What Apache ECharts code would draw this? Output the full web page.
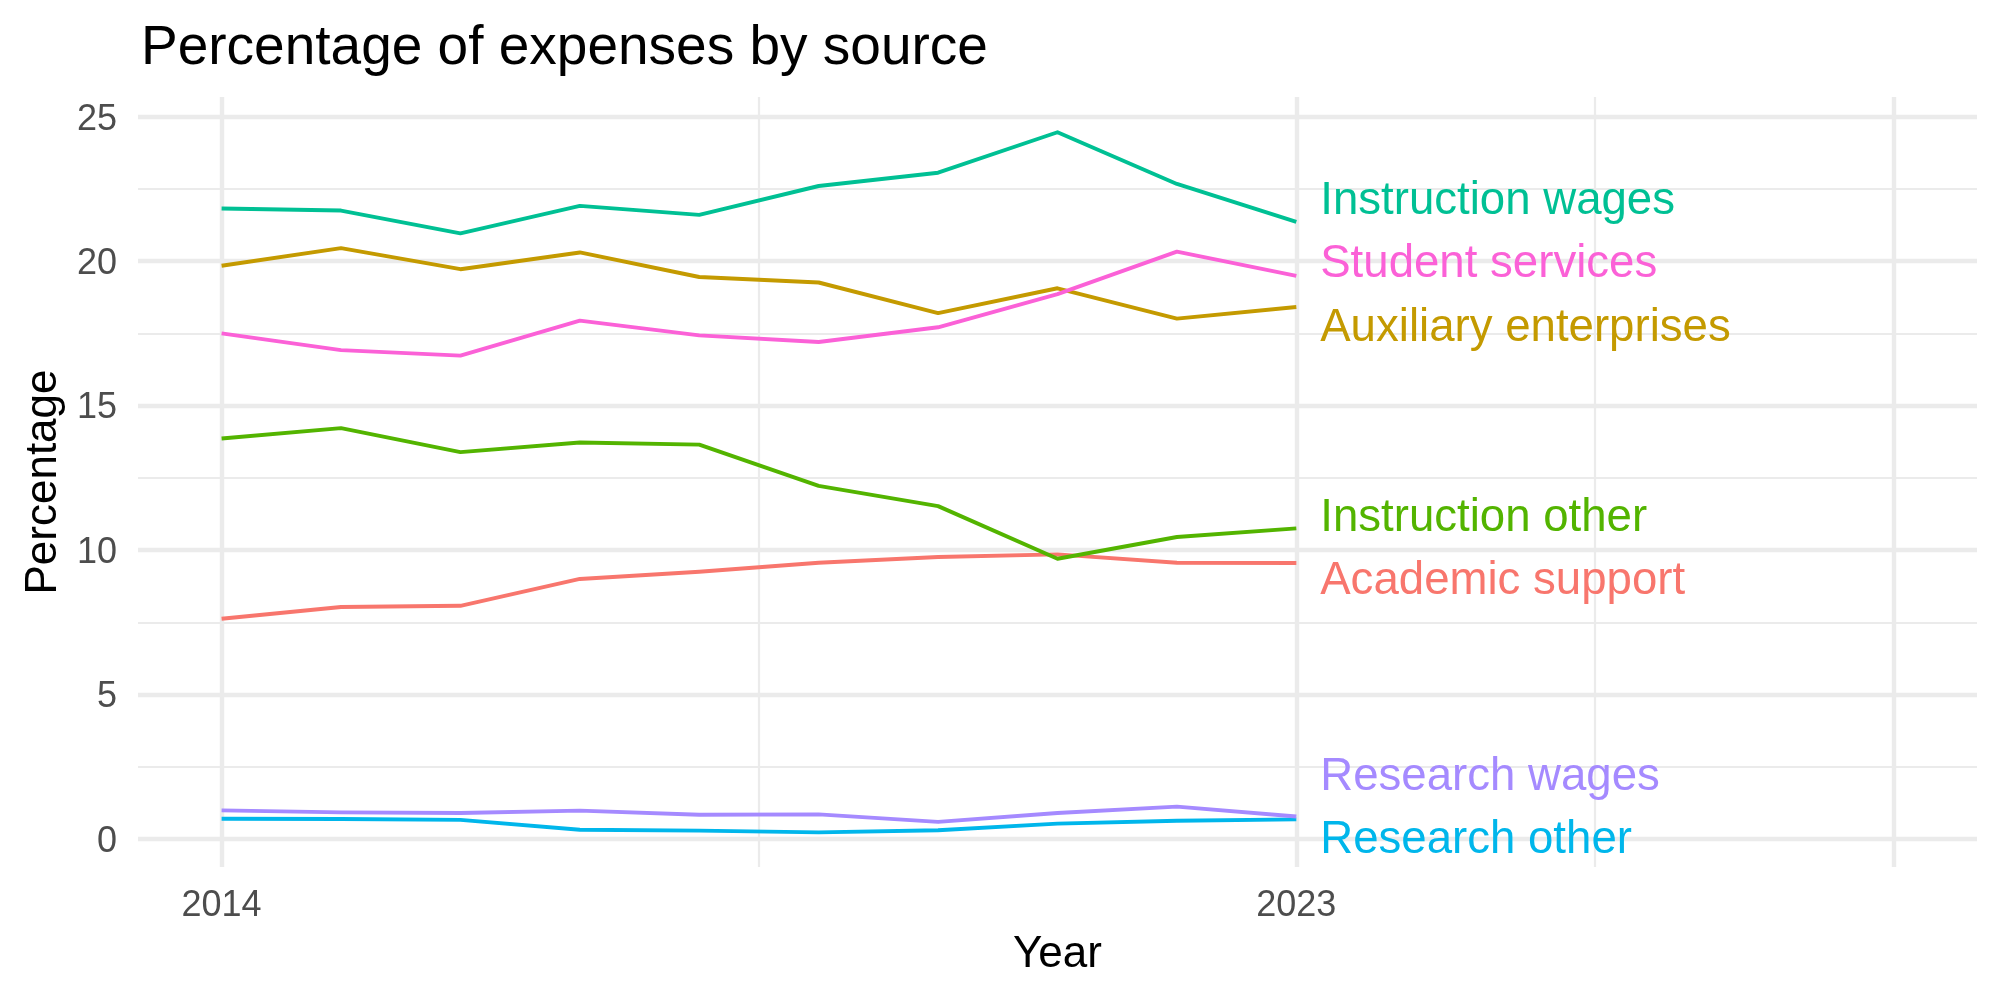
<!DOCTYPE html>
<html>
<head>
<meta charset="utf-8">
<script src="https://cdn.jsdelivr.net/npm/echarts@6/dist/echarts.min.js"></script>
<style>
html,body{margin:0;padding:0;background:#ffffff;}
#chart{width:2000px;height:1000px;}
</style>
</head>
<body>
<div id="chart"></div>
<script>
// ---- data ----
const years = [2014, 2015, 2016, 2017, 2018, 2019, 2020, 2021, 2022, 2023];
const academicSupport      = [7.62, 8.03, 8.07, 9.00, 9.25, 9.56, 9.76, 9.85, 9.56, 9.55];
const auxiliaryEnterprises = [19.84, 20.45, 19.72, 20.30, 19.45, 19.26, 18.20, 19.06, 18.01, 18.41];
const instructionOther     = [13.86, 14.22, 13.39, 13.72, 13.65, 12.22, 11.52, 9.70, 10.45, 10.75];
const instructionWages     = [21.82, 21.75, 20.96, 21.91, 21.60, 22.60, 23.06, 24.46, 22.67, 21.36];
const researchOther        = [0.70, 0.69, 0.66, 0.32, 0.29, 0.23, 0.30, 0.53, 0.63, 0.68];
const researchWages        = [0.99, 0.92, 0.90, 0.98, 0.84, 0.85, 0.59, 0.90, 1.12, 0.78];
const studentServices      = [17.50, 16.92, 16.73, 17.94, 17.43, 17.20, 17.71, 18.86, 20.33, 19.49];
const seriesNames = ['Academic support', 'Auxiliary enterprises', 'Instruction other', 'Instruction wages', 'Research other', 'Research wages', 'Student services'];
// repelled label anchor values (percentage units)
const labelValues = [9.05, 17.81, 11.24, 22.19, 0.08, 2.27, 20.03];
const xTickLabels = [2014, 2023];
const yTickLabels = [0, 5, 10, 15, 20, 25];

// ---- styling ----
const allValues = [academicSupport, auxiliaryEnterprises, instructionOther, instructionWages, researchOther, researchWages, studentServices];
const colors = ['#F8766D', '#C49A00', '#53B400', '#00C094', '#00B6EB', '#A58AFF', '#FB61D7'];
const FONT = '"Liberation Sans", Arial, Helvetica, sans-serif';
const GRID_COLOR = '#EBEBEB';
const xMin = 2013.3, xMax = 2028.7;
const yMin = -0.97, yMax = 25.68;
const labelX = 2023.2;

const xMajorGrid = [2014, 2023, 2028];
const xMinorGrid = [2018.5, 2025.5];
const yMinorGrid = [2.5, 7.5, 12.5, 17.5, 22.5];

const lineSeries = allValues.map((vals, i) => ({
  type: 'line',
  name: seriesNames[i],
  xAxisIndex: 0, yAxisIndex: 0,
  data: years.map((y, j) => [y, vals[j]]),
  showSymbol: false,
  symbol: 'none',
  lineStyle: { color: colors[i], width: 3.9, cap: 'butt', join: 'round' },
  itemStyle: { color: colors[i] },
  z: 3,
  silent: true
}));

const labelSeries = {
  type: 'scatter',
  xAxisIndex: 0, yAxisIndex: 0,
  symbolSize: 0,
  silent: true,
  z: 4,
  itemStyle: { opacity: 1 },
  data: seriesNames.map((n, i) => ({
    name: n,
    value: [labelX, labelValues[i]],
    itemStyle: { color: colors[i], opacity: 1 },
    label: { color: colors[i], opacity: 1 }
  })),
  label: {
    show: true,
    position: 'right',
    distance: 0,
    offset: [0, 4],
    formatter: '{b}',
    fontSize: 45.6,
    fontFamily: FONT,
    align: 'left',
    verticalAlign: 'middle',
    opacity: 1
  }
};

const chart = echarts.init(document.getElementById('chart'), null, { renderer: 'canvas' });
chart.setOption({
  animation: false,
  backgroundColor: '#ffffff',
  title: {
    text: 'Percentage of expenses by source',
    left: 136, top: 16,
    textStyle: { fontFamily: FONT, fontSize: 55, fontWeight: 'normal', color: '#000000' }
  },
  grid: { left: 138, right: 23, top: 97, bottom: 133, containLabel: false },
  xAxis: [
    {
      type: 'value', min: xMin, max: xMax,
      name: 'Year', nameLocation: 'middle', nameGap: 66,
      nameTextStyle: { fontFamily: FONT, fontSize: 44, color: '#000000' },
      axisLine: { show: false },
      axisTick: { show: false, customValues: xMajorGrid },
      axisLabel: { customValues: xTickLabels, fontFamily: FONT, fontSize: 36, color: '#4D4D4D', margin: 21, formatter: v => String(v) },
      splitLine: { show: true, lineStyle: { color: GRID_COLOR, width: 4.4 } }
    },
    {
      type: 'value', min: xMin, max: xMax, position: 'bottom',
      axisLine: { show: false },
      axisTick: { show: false, customValues: xMinorGrid },
      axisLabel: { show: false },
      splitLine: { show: true, lineStyle: { color: GRID_COLOR, width: 2.2 } }
    }
  ],
  yAxis: [
    {
      type: 'value', min: yMin, max: yMax,
      name: 'Percentage', nameLocation: 'middle', nameGap: 70, nameRotate: 90,
      nameTextStyle: { fontFamily: FONT, fontSize: 44, color: '#000000' },
      axisLine: { show: false },
      axisTick: { show: false, customValues: yTickLabels },
      axisLabel: {
        customValues: yTickLabels, margin: 21,
        formatter: v => '{t|' + v + '}',
        rich: { t: { fontFamily: FONT, fontSize: 36, color: '#4D4D4D', padding: [6, 0, 0, 0] } }
      },
      splitLine: { show: true, lineStyle: { color: GRID_COLOR, width: 4.4 } }
    },
    {
      type: 'value', min: yMin, max: yMax, position: 'left',
      axisLine: { show: false },
      axisTick: { show: false, customValues: yMinorGrid },
      axisLabel: { show: false },
      splitLine: { show: true, lineStyle: { color: GRID_COLOR, width: 2.2 } }
    }
  ],
  series: lineSeries.concat([labelSeries])
});
</script>
</body>
</html>
